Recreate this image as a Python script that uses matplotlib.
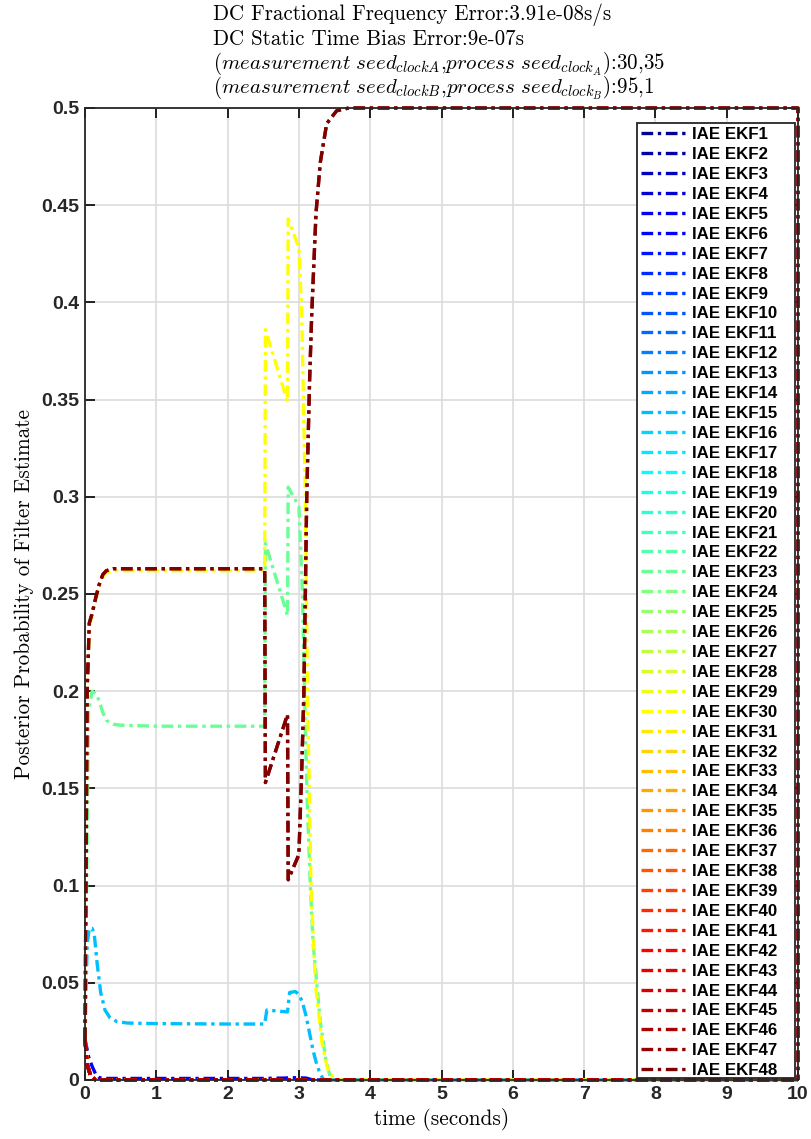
import matplotlib
matplotlib.use("Agg")
import matplotlib.pyplot as plt
from matplotlib.patches import Rectangle
import numpy as np

plt.rcParams["mathtext.fontset"] = "cm"

# --- data ---
n_filters = 48
labels = [f"IAE EKF{i}" for i in range(1, n_filters + 1)]

# the filters that keep most of the probability mass
t_red = [0, 0.03, 0.06, 0.1, 0.15, 0.2, 0.25, 0.3, 0.4, 0.5, 1.0, 2.0, 2.52, 2.53,
         2.84, 2.85, 3.0, 3.04, 3.07, 3.11, 3.15, 3.18, 3.24, 3.3, 3.39, 3.53, 3.7, 10.0, 10.0]
v_red = [0.021, 0.2, 0.235, 0.24, 0.248, 0.255, 0.26, 0.262, 0.263, 0.263, 0.263, 0.263, 0.263, 0.153,
         0.188, 0.103, 0.116, 0.16, 0.2, 0.3, 0.36, 0.394, 0.446, 0.472, 0.492, 0.4986, 0.5, 0.5, 0.0]

t_yel = [0, 0.03, 0.06, 0.1, 0.15, 0.2, 0.25, 0.3, 0.4, 0.5, 1.0, 2.0, 2.52, 2.53,
         2.84, 2.85, 3.0, 3.04, 3.09, 3.12, 3.17, 3.23, 3.32, 3.4, 3.5, 10.0]
v_yel = [0.021, 0.2, 0.233, 0.239, 0.247, 0.254, 0.259, 0.261, 0.262, 0.262, 0.262, 0.262, 0.262, 0.386,
         0.349, 0.443, 0.428, 0.394, 0.30, 0.2, 0.1, 0.05, 0.02, 0.006, 0.0, 0.0]

t_grn = [0, 0.05, 0.1, 0.15, 0.2, 0.25, 0.3, 0.4, 0.5, 1.0, 2.0, 2.52, 2.53,
         2.84, 2.85, 3.0, 3.05, 3.09, 3.12, 3.16, 3.2, 3.25, 3.3, 3.38, 3.45, 10.0]
v_grn = [0.021, 0.19, 0.2, 0.199, 0.195, 0.189, 0.185, 0.183, 0.1825, 0.182, 0.182, 0.182, 0.276,
         0.239, 0.305, 0.295, 0.25, 0.18, 0.14, 0.1, 0.07, 0.05, 0.03, 0.01, 0.0, 0.0]

t_cyn = [0, 0.03, 0.06, 0.1, 0.13, 0.17, 0.22, 0.28, 0.35, 0.45, 0.6, 1.0, 2.0, 2.52, 2.55,
         2.84, 2.87, 2.95, 3.0, 3.05, 3.1, 3.15, 3.2, 3.25, 3.3, 3.35, 10.0]
v_cyn = [0.021, 0.07, 0.078, 0.078, 0.075, 0.06, 0.045, 0.036, 0.032, 0.03, 0.0293, 0.029, 0.0288, 0.0288, 0.036,
         0.035, 0.045, 0.0455, 0.044, 0.04, 0.033, 0.024, 0.015, 0.008, 0.003, 0.0, 0.0]

t_blu = [0, 0.05, 0.1, 0.15, 0.2, 0.3, 2.5, 2.8, 2.9, 3.1, 3.2, 10.0]
v_blu = [0.021, 0.012, 0.007, 0.003, 0.0012, 0.0008, 0.0008, 0.001, 0.0012, 0.001, 0.0, 0.0]

# every other filter decays to zero straight away
t_rest = [0, 0.03, 0.08, 0.15, 10.0]
v_rest = [0.021, 0.008, 0.002, 0.0, 0.0]

series = {6: (t_blu, v_blu), 15: (t_cyn, v_cyn), 23: (t_grn, v_grn),
          30: (t_yel, v_yel), 47: (t_red, v_red), 48: (t_red, v_red)}

x_ticks = list(range(0, 11))
y_ticks = [0, 0.05, 0.1, 0.15, 0.2, 0.25, 0.3, 0.35, 0.4, 0.45, 0.5]
y_ticklabels = ["0", "0.05", "0.1", "0.15", "0.2", "0.25", "0.3", "0.35", "0.4", "0.45", "0.5"]

title_lines = [
    "DC Fractional Frequency Error:3.91e-08s/s",
    "DC Static Time Bias Error:9e-07s",
    r"$(measurement\ seed_{clockA}$,$process\ seed_{clock_A})$:30,35",
    r"$(measurement\ seed_{clockB}$,$process\ seed_{clock_B})$:95,1",
]

DASHES = (3.5, 1.4, 1.0, 1.4)
W, H = 812, 1139
AX_L, AX_R, AX_T, AX_B = 85, 798, 108, 1080   # axes box, pixels
LEG_L, LEG_R, LEG_T, LEG_B = 637, 795, 123, 1078  # legend box, pixels


def jet(m):
    # MATLAB jet(m)
    n = int(np.ceil(m / 4))
    u = np.r_[np.arange(1, n + 1) / n, np.ones(n - 1), np.arange(n, 0, -1) / n]
    g = int(np.ceil(n / 2)) - (1 if m % 4 == 1 else 0) + np.arange(1, len(u) + 1)
    r = g + n
    b = g - n
    cmap = np.zeros((m, 3))
    for arr, col in ((r, 0), (g, 1), (b, 2)):
        keep = (arr >= 1) & (arr <= m)
        cmap[arr[keep] - 1, col] = u[keep]
    return cmap


colors = jet(n_filters)

fig = plt.figure(figsize=(W / 100, H / 100), dpi=100)
aw, ah = AX_R - AX_L, AX_B - AX_T
ax = fig.add_axes([AX_L / W, (H - AX_B) / H, aw / W, ah / H])

for i in range(1, n_filters + 1):
    t, v = series.get(i, (t_rest, v_rest))
    ln, = ax.plot(t, v, color=colors[i - 1], lw=2.4, label=labels[i - 1], clip_on=False)
    ln.set_dashes(DASHES)

ax.set_xlim(0, 10)
ax.set_ylim(0, 0.5)
ax.set_xticks(x_ticks)
ax.set_yticks(y_ticks)
ax.set_yticklabels(y_ticklabels)
ax.tick_params(direction="in", length=7, width=1.2, top=True, right=True, pad=4,
               labelsize=14)
for lab in ax.get_xticklabels() + ax.get_yticklabels():
    lab.set_family("Liberation Sans")
    lab.set_fontweight("bold")
    lab.set_color("#262626")
for sp in ax.spines.values():
    sp.set_linewidth(1.3)
    sp.set_color("#262626")
ax.grid(True, color="#dcdcdc", lw=1.2)
ax.set_axisbelow(True)

ax.set_xlabel("time (seconds)", family="cmr10", fontsize=15.3, labelpad=4)
ax.set_ylabel("Posterior Probability of Filter Estimate", family="cmr10", fontsize=15.3, labelpad=5)

for k, line in enumerate(title_lines):
    fig.text(213 / W, 1 - (20 + 24.8 * k) / H, line, family="cmr10", fontsize=15.1,
             ha="left", va="baseline")

# legend box drawn separately, MATLAB style (extra room on the right)
box = Rectangle(((LEG_L - AX_L) / aw, (AX_B - LEG_B) / ah), (LEG_R - LEG_L) / aw,
                (LEG_B - LEG_T) / ah, transform=ax.transAxes, facecolor="white",
                edgecolor="#262626", lw=1.3, zorder=4.5, clip_on=False)
ax.add_patch(box)

leg = ax.legend(loc="upper left", bbox_to_anchor=((LEG_L - AX_L) / aw, (AX_B - LEG_T) / ah),
                ncol=1, prop={"family": "Liberation Sans", "weight": "bold", "size": 12.2},
                handlelength=2.84, handletextpad=0.18, labelspacing=0.29,
                borderpad=0.25, borderaxespad=0.0, frameon=False)
leg.set_zorder(5)
for h in leg.get_lines():
    h.set_dashes(DASHES)

fig.savefig("out.png", dpi=100)
